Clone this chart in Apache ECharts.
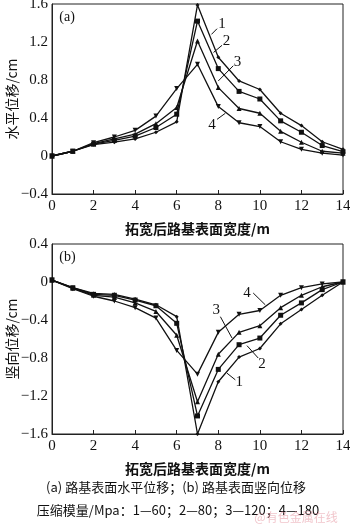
<!DOCTYPE html>
<html><head><meta charset="utf-8">
<script src="https://cdn.jsdelivr.net/npm/echarts@6/dist/echarts.min.js"></script>
<style>html,body{margin:0;padding:0;background:#fff}#c{width:350px;height:524px}</style>
</head><body><div id="c"></div>
<script>
const xCats = [0,1,2,3,4,5,6,7,8,9,10,11,12,13,14];
const seriesNames = ['1','2','3','4'];
// (a) horizontal displacement, cm
const horiz1 = [0,0.05,0.12,0.145,0.18,0.25,0.36,1.59,1.04,0.79,0.70,0.45,0.32,0.15,0.07];
const horiz2 = [0,0.05,0.125,0.165,0.21,0.30,0.44,1.42,0.92,0.68,0.60,0.37,0.25,0.11,0.045];
const horiz3 = [0,0.05,0.13,0.18,0.23,0.34,0.51,1.21,0.72,0.50,0.45,0.26,0.145,0.05,0.03];
const horiz4 = [0,0.05,0.14,0.20,0.27,0.42,0.71,0.965,0.52,0.35,0.31,0.15,0.07,0.03,0.01];
// (b) vertical displacement, cm
const vert1 = [0.02,-0.06,-0.12,-0.13,-0.18,-0.24,-0.365,-1.6,-1.05,-0.79,-0.70,-0.44,-0.29,-0.14,0];
const vert2 = [0.02,-0.06,-0.13,-0.14,-0.19,-0.25,-0.435,-1.41,-0.92,-0.66,-0.59,-0.35,-0.22,-0.08,0];
const vert3 = [0.02,-0.065,-0.14,-0.16,-0.22,-0.31,-0.56,-1.26,-0.76,-0.53,-0.46,-0.27,-0.14,-0.05,0];
const vert4 = [0.02,-0.07,-0.15,-0.20,-0.27,-0.38,-0.72,-0.97,-0.53,-0.34,-0.30,-0.14,-0.06,-0.02,0];
const xTicks = [0,2,4,6,8,10,12,14];
const yTicksA = [-0.4,0,0.4,0.8,1.2,1.6];
const yTicksB = [-1.6,-1.2,-0.8,-0.4,0,0.4];
// annotation leaders [label, textX, textY, lineX1, lineY1, lineX2, lineY2] in data units
const annA = [['1',8.18,1.39,7.94,1.34,7.67,1.28],['2',8.39,1.21,8.18,1.165,7.77,1.09],['3',8.92,0.99,8.72,0.95,8.0,0.79],['4',7.70,0.33,7.94,0.386,8.34,0.45]];
const annB = [['4',9.38,-0.12,9.68,-0.116,10.26,-0.24],['3',7.9,-0.295,8.10,-0.365,8.66,-0.59],['2',10.1,-0.86,9.92,-0.80,9.38,-0.67],['1',9.01,-1.05,8.82,-1.03,8.42,-0.96]];

const serif = '"Liberation Serif","DejaVu Serif",serif';
const cjk = '"Noto Sans CJK SC","Liberation Serif",serif';
const symbols = ['diamond','rect','triangle','triangle'];
const rot = [0,0,0,180];
const sizes = [4,5,5,5];
const chart = echarts.init(document.getElementById('c'));
function fmtY(v){ if (Math.abs(v)<1e-9) return '0'; return (v<0?'\u2212':'')+Math.abs(v).toFixed(1); }
function xAxis(idx){ return {type:'value',gridIndex:idx,min:0,max:14,interval:2,
  name:'拓宽后路基表面宽度/m',nameLocation:'middle',nameGap:28,nameMoveOverlap:false,
  nameTextStyle:{fontFamily:cjk,fontWeight:'bold',fontSize:14,color:'#111'},
  axisLine:{onZero:false,lineStyle:{color:'#222',width:1}},
  axisTick:{inside:true,length:4,lineStyle:{color:'#222'}},
  axisLabel:{fontFamily:serif,fontSize:15,color:'#111',margin:5},
  splitLine:{show:false}}; }
function yAxis(idx,min,max,name){ return {type:'value',gridIndex:idx,min:min,max:max,interval:0.4,
  name:name,nameLocation:'middle',nameGap:33,nameRotate:90,nameMoveOverlap:false,
  nameTextStyle:{fontFamily:cjk,fontSize:14,color:'#111'},
  axisLine:{lineStyle:{color:'#222',width:1}},axisTick:{show:false},
  axisLabel:{fontFamily:serif,fontSize:15,color:'#111',margin:4,formatter:fmtY},
  splitLine:{show:false}}; }
const hData=[horiz1,horiz2,horiz3,horiz4], vData=[vert1,vert2,vert3,vert4];
const series=[];
hData.forEach((d,i)=>series.push({type:'line',name:seriesNames[i],xAxisIndex:0,yAxisIndex:0,
  data:xCats.map((x,j)=>[x,d[j]]),symbol:symbols[i],symbolRotate:rot[i],symbolSize:sizes[i],
  lineStyle:{color:'#111',width:1.3},itemStyle:{color:'#111'},z:3}));
vData.forEach((d,i)=>series.push({type:'line',name:seriesNames[i],xAxisIndex:1,yAxisIndex:1,
  data:xCats.map((x,j)=>[x,d[j]]),symbol:symbols[i],symbolRotate:rot[i],symbolSize:sizes[i],
  lineStyle:{color:'#111',width:1.3},itemStyle:{color:'#111'},z:3}));
chart.setOption({animation:false,backgroundColor:'#fff',
  grid:[{left:52,right:7,top:4,height:190,show:true,borderColor:'#222',borderWidth:1,backgroundColor:'transparent',outerBoundsMode:'none',containLabel:false},
        {left:52,right:7,top:244,height:190,show:true,borderColor:'#222',borderWidth:1,backgroundColor:'transparent',outerBoundsMode:'none',containLabel:false}],
  xAxis:[xAxis(0),xAxis(1)],
  yAxis:[yAxis(0,-0.4,1.6,'水平位移/cm'),yAxis(1,-1.6,0.4,'竖向位移/cm')],
  series:series});
const g=[];
function addAnn(list,gi){
  list.forEach(a=>{
    const t=chart.convertToPixel({gridIndex:gi},[a[1],a[2]]);
    const p1=chart.convertToPixel({gridIndex:gi},[a[3],a[4]]);
    const p2=chart.convertToPixel({gridIndex:gi},[a[5],a[6]]);
    g.push({type:'text',x:t[0],y:t[1],style:{text:a[0],font:'15px '+serif,fill:'#111',align:'center',verticalAlign:'middle'}});
    g.push({type:'line',shape:{x1:p1[0],y1:p1[1],x2:p2[0],y2:p2[1]},style:{stroke:'#111',lineWidth:1}});
  });
}
addAnn(annA,0); addAnn(annB,1);
const pa=chart.convertToPixel({gridIndex:0},[0.35,1.46]);
const pb=chart.convertToPixel({gridIndex:1},[0.35,0.26]);
g.push({type:'text',x:pa[0],y:pa[1],style:{text:'(a)',font:'14px '+serif,fill:'#111',verticalAlign:'middle'}});
g.push({type:'text',x:pb[0],y:pb[1],style:{text:'(b)',font:'14px '+serif,fill:'#111',verticalAlign:'middle'}});
g.push({type:'text',x:176,y:487,style:{text:'(a) 路基表面水平位移；(b) 路基表面竖向位移',font:'13px '+cjk,fill:'#111',align:'center',verticalAlign:'middle'}});
g.push({type:'text',x:178,y:510,style:{text:'压缩模量/Mpa：1—60；2—80；3—120；4—180',font:'13px '+cjk,fill:'#111',align:'center',verticalAlign:'middle'}});
g.push({type:'text',x:296,y:517,style:{text:'@有色金属在线',font:'12px '+cjk,fill:'rgba(230,150,160,0.55)',align:'center',verticalAlign:'middle'}});
chart.setOption({graphic:g});
</script></body></html>
